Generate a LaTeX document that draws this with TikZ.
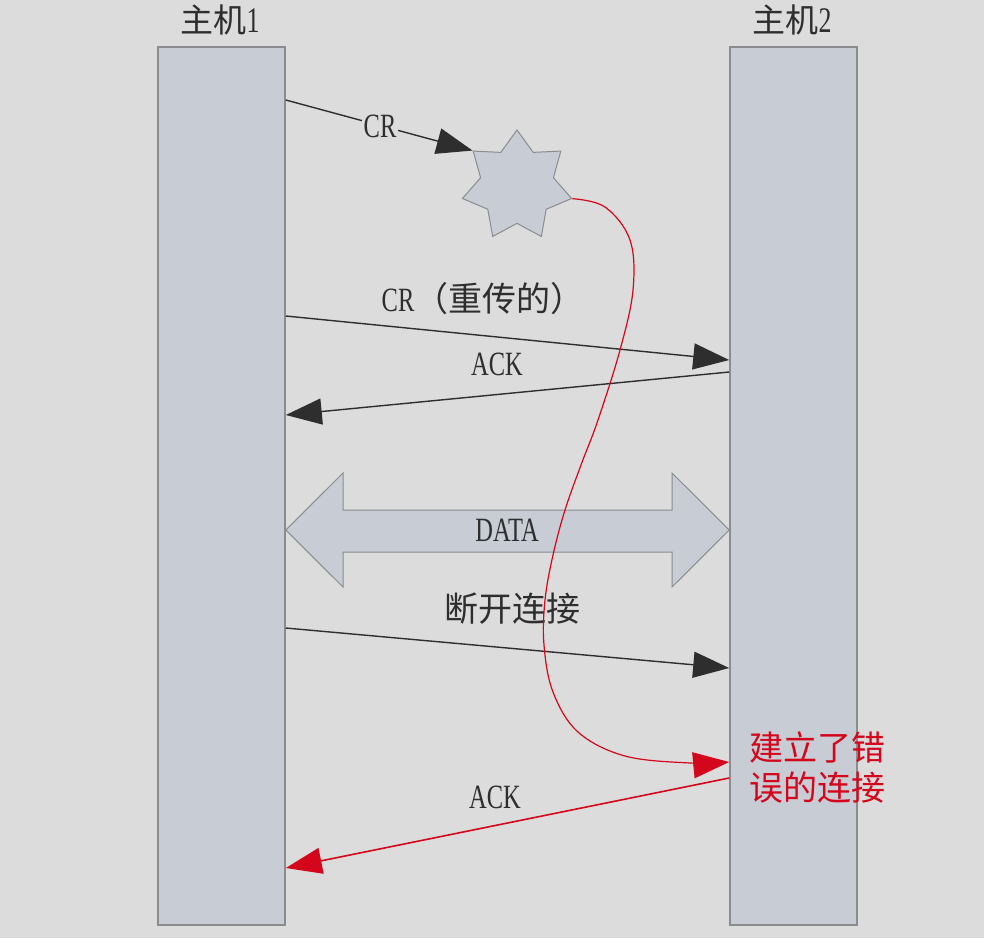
\documentclass[tikz,border=0pt]{standalone}
\usepackage{fontspec}
\usetikzlibrary{shapes.geometric,arrows.meta}
\newfontfamily\cjk{Noto Sans CJK SC}
\newfontfamily\lat[FakeStretch=0.72]{Liberation Serif}
\definecolor{bg}{HTML}{DCDCDC}
\definecolor{barfill}{HTML}{C8CCD4}
\definecolor{barline}{HTML}{8A8C90}
\definecolor{ink}{HTML}{2E2E2E}
\definecolor{errred}{HTML}{D4061C}
\tikzset{
  bar/.style={draw=barline, line width=1.6pt, fill=barfill, minimum width=127pt, minimum height=878pt, inner sep=0pt},
  msg/.style={draw=ink, line width=1.4pt, -{Triangle[length=36pt,width=26pt]}},
  errmsg/.style={draw=errred, line width=1.6pt, -{Triangle[length=36pt,width=26pt]}},
  lbl/.style={text=ink, inner sep=2pt, font=\fontsize{34}{40}\selectfont},
  cjklbl/.style={text=ink, inner sep=2pt, font=\cjk\fontsize{34}{40}\selectfont},
  gapbg/.style={fill=bg},
}
\begin{document}
\begin{tikzpicture}[x=1pt,y=-1pt]
\useasboundingbox (0,0) rectangle (984,938);
\fill[bg] (0,0) rectangle (984,938);

% the two hosts
\node[bar] (h1) at (221.5,486) {};
\node[bar] (h2) at (793.5,486) {};
\node[cjklbl, font=\cjk\fontsize{33}{38}\selectfont] (t1) at (220,20) {主机{\lat\fontsize{36}{40}\selectfont 1}};
\node[cjklbl, font=\cjk\fontsize{33}{38}\selectfont] (t2) at (792,20) {主机{\lat\fontsize{36}{40}\selectfont 2}};

% lost connection request
\node[star, star points=7, star point ratio=1.5, minimum size=112pt, inner sep=0pt,
      draw=barline, line width=1pt, fill=barfill] (st) at (517,186) {};
\coordinate (c1) at (h1.east |- 0,100);
\draw[msg] (c1) -- (st.outer point 2);
\node[lbl, gapbg] (lcr) at (380,126) {\lat CR};

% retransmitted CR and its ACK
\coordinate (c2) at (h1.east |- 0,316);
\coordinate (d2) at (h2.west |- 0,360);
\draw[msg] (c2) -- (d2);
\node[cjklbl] (lcr2) at (483,299) {{\lat\fontsize{34}{40}\selectfont CR}（重传的）};

\coordinate (d3) at (h2.west |- 0,372);
\coordinate (c3) at (h1.east |- 0,415);
\draw[msg] (d3) -- (c3);
\node[lbl] (lack) at (497,364) {\lat ACK};

% data exchange
\path[draw=barline, line width=1pt, fill=barfill]
  (h1.east |- 0,530) -- (343,473) -- (343,510) -- (672,510) -- (672,473)
  -- (h2.west |- 0,530) -- (672,587) -- (672,552) -- (343,552) -- (343,587) -- cycle;
\node[lbl] (ldata) at (507,530) {\lat DATA};

% disconnect
\coordinate (c4) at (h1.east |- 0,628);
\coordinate (d4) at (h2.west |- 0,668);
\draw[msg] (c4) -- (d4);
\node[cjklbl] (ldis) at (512,609) {断开连接};

% delayed duplicate reaching host 2
\coordinate (d5) at (h2.west |- 0,762);
\draw[errred, line width=1.2pt, -{Triangle[length=36pt,width=26pt]}]
  plot[smooth, tension=0.6] coordinates {(st.outer point 6) (605,207) (630,240) (633,290)
    (620,350) (598,420) (581,465) (565,510) (553,555) (545,600) (544,645) (553,692) (578,732) (625,756) (690,763) (d5)};
\node[cjklbl, text=errred, align=left, font=\cjk\fontsize{34}{40}\selectfont] (lerr) at (817,768) {建立了错\\误的连接};

% ACK of the false connection
\coordinate (d6) at (h2.west |- 0,778);
\coordinate (c6) at (h1.east |- 0,868);
\draw[errmsg] (d6) -- (c6);
\node[lbl] (lack2) at (495,797) {\lat ACK};
\end{tikzpicture}
\end{document}
